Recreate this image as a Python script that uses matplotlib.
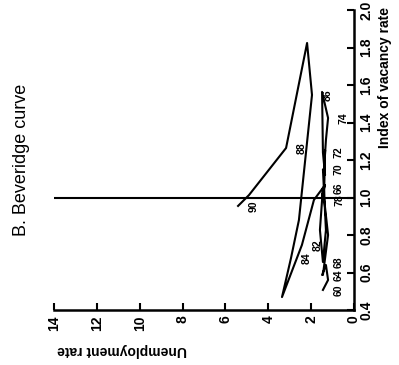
import matplotlib.pyplot as plt

plt.rcParams['font.family'] = ['Liberation Sans', 'DejaVu Sans']

# Beveridge curve, one point per year (unemployment %, vacancy index)
years = list(range(1960, 1991))
unemployment = [1.45, 1.21, 1.31, 1.49, 1.45, 1.21, 1.45, 1.59, 1.45, 1.31,
                1.45, 1.35, 1.45, 1.49, 1.21, 1.31, 1.40, 1.35, 1.40, 1.49,
                1.35, 1.87, 2.43, 3.36, 2.94, 2.57, 1.96, 2.19, 3.17, 4.90,
                5.41]
vacancy = [0.507, 0.56, 0.64, 0.587, 0.587, 0.80, 1.05, 0.827, 0.656, 0.827,
           1.15, 1.12, 1.24, 1.563, 1.424, 1.307, 1.147, 1.253, 0.987, 1.013,
           1.067, 0.987, 0.747, 0.469, 0.677, 0.88, 1.547, 1.824, 1.264, 1.013,
           0.955]
labelled = [1960, 1964, 1966, 1968, 1970, 1972, 1974, 1978, 1982, 1984,
            1986, 1988, 1990]
u_ticks = [0, 2, 4, 6, 8, 10, 12, 14]
v_ticks = [0.4, 0.6, 0.8, 1.0, 1.2, 1.4, 1.6, 1.8, 2.0]

fig = plt.figure(figsize=(3.99, 3.65), dpi=100)
ax = fig.add_axes([54 / 399, 55 / 365, 300 / 399, 300 / 365])

# the page is turned: unemployment runs right-to-left along the bottom,
# the vacancy index runs up the right-hand side
ax.plot(unemployment, vacancy, color='black', lw=1.5)
ax.axhline(1.0, color='black', lw=1.5)

for yr, u, v in zip(years, unemployment, vacancy):
    if yr in labelled:
        ax.annotate(str(yr)[2:], (u, v), xytext=(11, 0), textcoords='offset points',
                    rotation=90, ha='center', va='center', fontsize=7.5,
                    fontweight='bold')

ax.set_xlim(14, 0)
ax.set_ylim(0.4, 2.0)
ax.set_xticks(u_ticks)
ax.set_yticks(v_ticks)
ax.set_xticklabels([str(t) for t in u_ticks], rotation=90, fontsize=10,
                   fontweight='bold')
ax.set_yticklabels(['%.1f' % t for t in v_ticks], rotation=90, va='center',
                   fontsize=10, fontweight='bold')
ax.yaxis.tick_right()
ax.tick_params(direction='in', length=5, width=1.5, pad=4)
ax.spines['top'].set_visible(False)
ax.spines['left'].set_visible(False)
ax.spines['bottom'].set_linewidth(1.8)
ax.spines['right'].set_linewidth(1.8)

fig.text(385 / 399, 1 - 78 / 365, 'Index of vacancy rate', rotation=90,
         ha='center', va='center', fontsize=10, fontweight='bold')
fig.text(122 / 399, 1 - 350 / 365, 'Unemployment rate', rotation=180,
         ha='center', va='center', fontsize=10, fontweight='bold')
fig.text(22 / 399, 1 - 160 / 365, 'B. Beveridge curve', rotation=90,
         ha='center', va='center', fontsize=13)

fig.savefig('out.png', dpi=100)
